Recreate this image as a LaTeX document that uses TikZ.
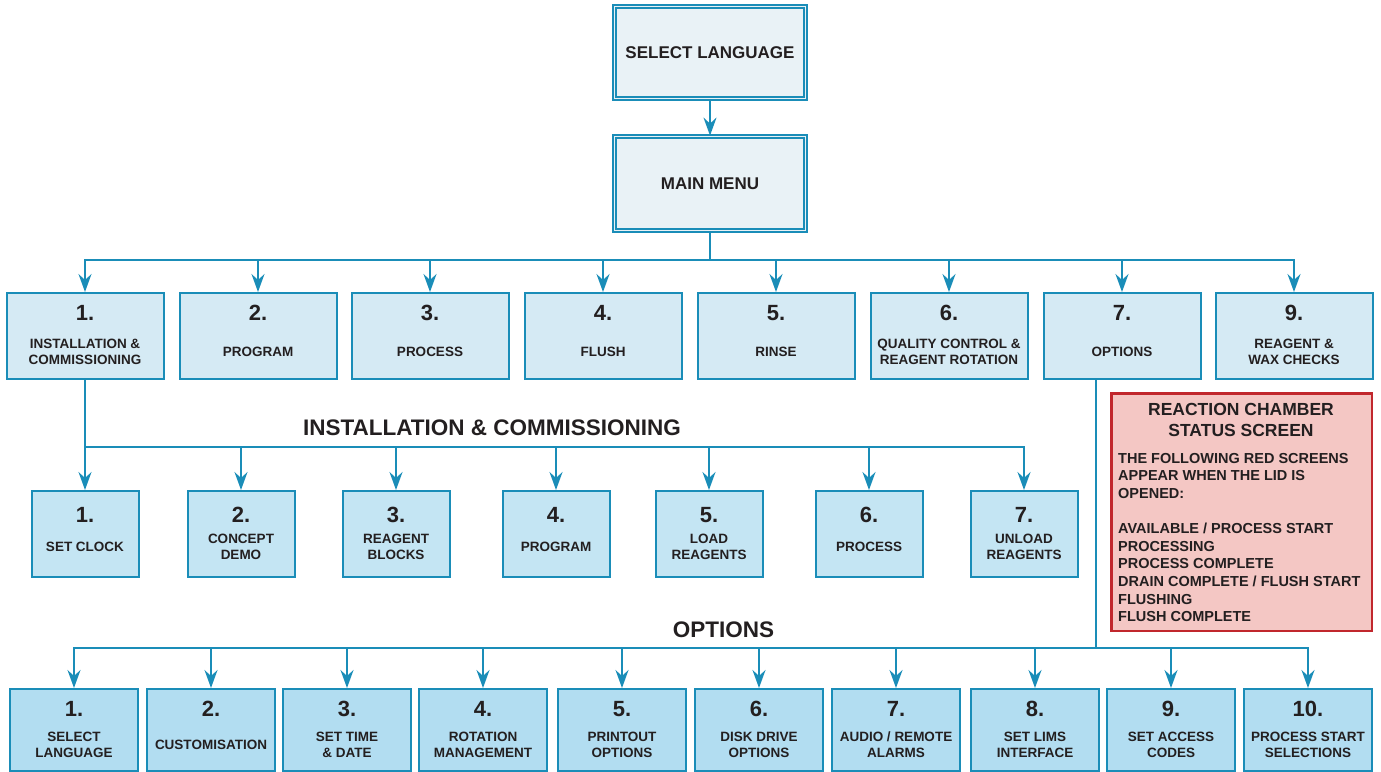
\documentclass[tikz,border=0pt]{standalone}
\usepackage{fontspec}
\setmainfont{Liberation Sans}
\usetikzlibrary{arrows.meta}
\definecolor{linec}{HTML}{1A8DB8}
\definecolor{topfill}{HTML}{E9F2F6}
\definecolor{fillA}{HTML}{D5EAF4}
\definecolor{fillB}{HTML}{C4E5F3}
\definecolor{fillC}{HTML}{B2DDF1}
\definecolor{redfill}{HTML}{F4C7C4}
\definecolor{redline}{HTML}{C1272D}
\definecolor{txt}{HTML}{231F20}
\newcommand\rbox[8]{%
  \node[#2] (#1) at (#3,#4) {};
  \node[numtxt] (#1n) at ([yshift=-#7pt]#1.north) {#5};
  \node[lbltxt] (#1l) at ([yshift=-#8pt]#1.north) {#6};
}
\begin{document}
\begin{tikzpicture}[x=1pt,y=-1pt,
  conn/.style={draw=linec, line width=2pt, line join=miter},
  arr/.style={conn, -{Stealth[length=18pt,width=13pt,inset=6pt]}},
  topbox/.style={draw=linec, double=topfill, line width=1.8pt, double distance=1.4pt, fill=topfill,
    minimum width=191pt, text=txt, font=\bfseries\fontsize{17}{20}\selectfont},
  rowbox/.style={draw=linec, line width=2pt, anchor=north, inner sep=0pt},
  boxA/.style={rowbox, fill=fillA, minimum width=157pt, minimum height=86pt},
  boxB/.style={rowbox, fill=fillB, minimum width=107pt, minimum height=86pt},
  boxC/.style={rowbox, fill=fillC, minimum width=128pt, minimum height=82pt},
  numtxt/.style={text=txt, inner sep=0pt, font=\bfseries\fontsize{22}{25}\selectfont},
  lbltxt/.style={text=txt, inner sep=0pt, align=center, font=\bfseries\fontsize{13.5}{16}\selectfont},
  headtxt/.style={text=txt, inner sep=0pt, font=\bfseries\fontsize{22.5}{26}\selectfont}
]
\useasboundingbox (0,0) rectangle (1381,771);

% top
\node[topbox, minimum height=92pt] (sl) at (710,52.5) {SELECT LANGUAGE};
\node[topbox, minimum height=94pt] (mm) at (710,183.5) {MAIN MENU};
\draw[arr] (sl.south) -- (mm.north);

% row 1
\rbox{a1}{boxA}{85}{292}{1.}{INSTALLATION \&\\COMMISSIONING}{21}{60}
\rbox{a2}{boxA}{258}{292}{2.}{PROGRAM}{21}{60}
\rbox{a3}{boxA}{430}{292}{3.}{PROCESS}{21}{60}
\rbox{a4}{boxA}{603}{292}{4.}{FLUSH}{21}{60}
\rbox{a5}{boxA}{776}{292}{5.}{RINSE}{21}{60}
\rbox{a6}{boxA}{949}{292}{6.}{QUALITY CONTROL \&\\REAGENT ROTATION}{21}{60}
\rbox{a7}{boxA}{1122}{292}{7.}{OPTIONS}{21}{60}
\rbox{a8}{boxA}{1294}{292}{9.}{REAGENT \&\\WAX CHECKS}{21}{60}

\coordinate (bus1) at (0,260);
\draw[conn] (mm.south) -- (mm.south |- bus1);
\draw[arr] (mm.south |- bus1) -- (a1.north |- bus1) -- (a1.north);
\draw[arr] (mm.south |- bus1) -- (a8.north |- bus1) -- (a8.north);
\foreach \i in {2,...,7} \draw[arr] (a\i.north |- bus1) -- (a\i.north);

% row 2
\node[headtxt] (h1) at (492,428) {INSTALLATION \& COMMISSIONING};
\rbox{b1}{boxB}{85}{490}{1.}{SET CLOCK}{25}{57}
\rbox{b2}{boxB}{241}{490}{2.}{CONCEPT\\DEMO}{25}{57}
\rbox{b3}{boxB}{396}{490}{3.}{REAGENT\\BLOCKS}{25}{57}
\rbox{b4}{boxB}{556}{490}{4.}{PROGRAM}{25}{57}
\rbox{b5}{boxB}{709}{490}{5.}{LOAD\\REAGENTS}{25}{57}
\rbox{b6}{boxB}{869}{490}{6.}{PROCESS}{25}{57}
\rbox{b7}{boxB}{1024}{490}{7.}{UNLOAD\\REAGENTS}{25}{57}

\coordinate (bus2) at (0,447);
\draw[arr] (a1.south) -- (a1.south |- bus2) -- (b1.north);
\draw[arr] (a1.south |- bus2) -- (b7.north |- bus2) -- (b7.north);
\foreach \i in {2,...,6} \draw[arr] (b\i.north |- bus2) -- (b\i.north);

% red box
\node[draw=redline, line width=2.5pt, fill=redfill, minimum width=260.5pt, minimum height=237.5pt, inner sep=0pt] (red) at (1241.5,512) {};
\node[text=txt, inner sep=0pt, align=center, font=\bfseries\fontsize{17.5}{21}\selectfont] (redt) at (1241,419.5) {REACTION CHAMBER\\STATUS SCREEN};
\node[text=txt, inner sep=0pt, align=left, anchor=west, font=\bfseries\fontsize{14.5}{17.65}\selectfont] (redb) at (1118,537.5)
 {THE FOLLOWING RED SCREENS\\APPEAR WHEN THE LID IS\\OPENED:\\[17.65pt]AVAILABLE / PROCESS START\\PROCESSING\\PROCESS COMPLETE\\DRAIN COMPLETE / FLUSH START\\FLUSHING\\FLUSH COMPLETE};

% row 3
\node[headtxt] (h2) at (723.5,630) {OPTIONS};
\rbox{c1}{boxC}{74}{688}{1.}{SELECT\\LANGUAGE}{21}{57}
\rbox{c2}{boxC}{211}{688}{2.}{CUSTOMISATION}{21}{57}
\rbox{c3}{boxC}{347}{688}{3.}{SET TIME\\\& DATE}{21}{57}
\rbox{c4}{boxC}{483}{688}{4.}{ROTATION\\MANAGEMENT}{21}{57}
\rbox{c5}{boxC}{622}{688}{5.}{PRINTOUT\\OPTIONS}{21}{57}
\rbox{c6}{boxC}{759}{688}{6.}{DISK DRIVE\\OPTIONS}{21}{57}
\rbox{c7}{boxC}{896}{688}{7.}{AUDIO / REMOTE\\ALARMS}{21}{57}
\rbox{c8}{boxC}{1035}{688}{8.}{SET LIMS\\INTERFACE}{21}{57}
\rbox{c9}{boxC}{1171}{688}{9.}{SET ACCESS\\CODES}{21}{57}
\rbox{c10}{boxC}{1308}{688}{10.}{PROCESS START\\SELECTIONS}{21}{57}

\coordinate (opttop) at ([xshift=-26pt]a7.south);
\coordinate (bus3) at (0,648);
\draw[conn] (opttop) -- (opttop |- bus3);
\draw[arr] (opttop |- bus3) -- (c1.north |- bus3) -- (c1.north);
\draw[arr] (opttop |- bus3) -- (c10.north |- bus3) -- (c10.north);
\foreach \i in {2,...,9} \draw[arr] (c\i.north |- bus3) -- (c\i.north);
\end{tikzpicture}
\end{document}
